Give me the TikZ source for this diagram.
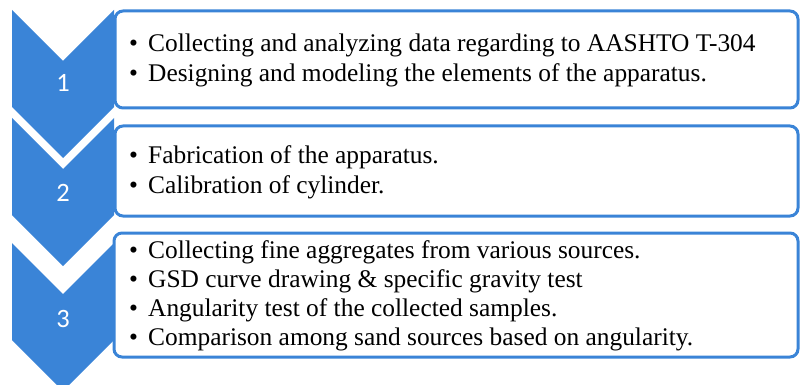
\documentclass[tikz,border=0pt]{standalone}
\usepackage{fontspec}
\setmainfont{Liberation Serif}
\newfontfamily\numfont{Carlito}
\definecolor{cblue}{RGB}{58,132,215}
\begin{document}
\begin{tikzpicture}[x=1pt,y=-1pt,
  chev/.style={fill=cblue},
  box/.style={draw=cblue,line width=3pt,fill=white,rounded corners=8pt},
  num/.style={font=\numfont\fontsize{26.5}{30}\selectfont,text=white,anchor=base,inner sep=0pt},
  bul/.style={font=\fontsize{25.4}{30}\selectfont,anchor=base west,inner sep=0pt},
  itm/.style={font=\fontsize{25.4}{30}\selectfont,anchor=base west,inner sep=0pt}]
\useasboundingbox (0,0) rectangle (800,385);
% chevrons
\fill[chev] (12,10) -- (63,61) -- (114,10) -- (114,107) -- (63,158) -- (12,107) -- cycle;
\fill[chev] (12,118) -- (63,169) -- (114,118) -- (114,215) -- (63,266) -- (12,215) -- cycle;
\fill[chev] (12,243) -- (63,294) -- (114,243) -- (114,340) -- (63,391) -- (12,340) -- cycle;
% numbers
\node[num] (n1) at (63,92) {1};
\node[num] (n2) at (63,201) {2};
\node[num] (n3) at (63,327) {3};
% boxes
\draw[box] (115,11) rectangle (798,108);
\draw[box] (115,126) rectangle (798,216);
\draw[box] (114,233) rectangle (798,357);
% box 1
\node[bul] (b11) at (129,52) {•};
\node[itm] (t11) at (148,52) {Collecting and analyzing data regarding to AASHTO T-304};
\node[bul] (b12) at (129,82) {•};
\node[itm] (t12) at (148,82) {Designing and modeling the elements of the apparatus.};
% box 2
\node[bul] (b21) at (129,163) {•};
\node[itm] (t21) at (148,163) {Fabrication of the apparatus.};
\node[bul] (b22) at (129,193) {•};
\node[itm] (t22) at (148,193) {Calibration of cylinder.};
% box 3
\node[bul] (b31) at (129,258) {•};
\node[itm] (t31) at (148,258) {Collecting fine aggregates from various sources.};
\node[bul] (b32) at (129,287) {•};
\node[itm] (t32) at (148,287) {GSD curve drawing \& specific gravity test};
\node[bul] (b33) at (129,316) {•};
\node[itm] (t33) at (148,316) {Angularity test of the collected samples.};
\node[bul] (b34) at (129,345) {•};
\node[itm] (t34) at (148,345) {Comparison among sand sources based on angularity.};
\end{tikzpicture}
\end{document}
